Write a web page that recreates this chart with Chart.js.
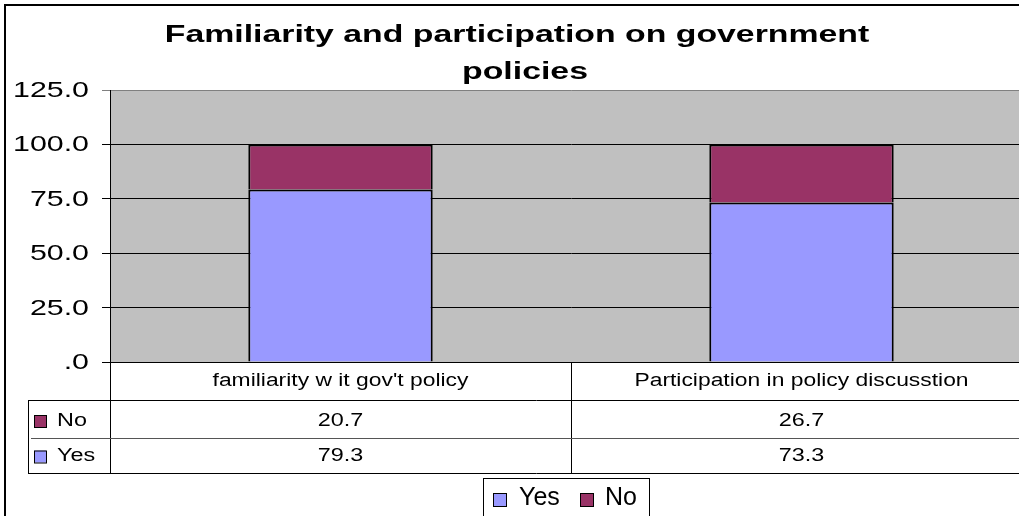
<!DOCTYPE html>
<html>
<head>
<meta charset="utf-8">
<script src="https://cdn.jsdelivr.net/npm/chart.js@4/dist/chart.umd.min.js"></script>
<style>
  html, body { margin: 0; padding: 0; background: #fff; overflow: hidden; }
  #wrap { width: 1019px; height: 516px; overflow: hidden; }
</style>
</head>
<body>
<div id="wrap"><canvas id="chart" width="1045" height="516"></canvas></div>
<script>
const chartTitle = ["Familiarity and participation on government", "policies"];
const categories = ["familiarity w it gov't policy", "Participation in policy discusstion"];
const seriesNames = ["Yes", "No"];
const yesValues = [79.3, 73.3];
const noValues = [20.7, 26.7];
const yTickValues = [0, 25, 50, 75, 100, 125];

(function () {
  const FONT = "'Liberation Sans', Arial, sans-serif";
  const yesColor = "#9999FF";
  const noColor = "#993366";

  function fmt(v) {
    return v === 0 ? ".0" : v.toFixed(1);
  }

  // the source image has its text stretched sideways, so draw with a scale
  function text(ctx, str, x, y, size, sx, align, bold, base) {
    ctx.save();
    ctx.font = (bold ? "bold " : "") + size + "px " + FONT;
    ctx.textAlign = align;
    ctx.textBaseline = base || "middle";
    ctx.fillStyle = "#000";
    ctx.translate(x, y);
    ctx.scale(sx, 1);
    ctx.fillText(str, 0, 0);
    ctx.restore();
  }

  const decor = {
    id: "decor",
    beforeDraw(chart) {
      const { ctx, chartArea: a } = chart;
      ctx.save();
      ctx.fillStyle = "#fff";
      ctx.fillRect(0, 0, chart.width, chart.height);
      ctx.fillStyle = "#C0C0C0";
      ctx.fillRect(a.left, a.top, a.right - a.left, a.bottom - a.top);
      ctx.restore();
    },
    afterDraw(chart) {
      const { ctx, chartArea: a } = chart;
      const x = chart.scales.x;
      const y = chart.scales.y;
      const ds = chart.data.datasets;
      ctx.save();

      // title
      text(ctx, chartTitle[0], 517, 42, 23, 1.47, "center", true, "alphabetic");
      text(ctx, chartTitle[1], 525, 79, 23, 1.47, "center", true, "alphabetic");

      // y tick labels
      y.ticks.forEach((t) => {
        text(ctx, fmt(t.value), 89, y.getPixelForValue(t.value) + 1, 22, 1.38, "right");
      });

      // data table
      const tableLeft = 28;
      const rowTop = [a.bottom, 400, 438, 473];
      const half = (x.getPixelForValue(1) - x.getPixelForValue(0)) / 2;
      ctx.strokeStyle = "#000";
      ctx.lineWidth = 1;
      ctx.beginPath();
      [rowTop[1], rowTop[3]].forEach((ly) => {
        ctx.moveTo(tableLeft, ly + 0.5);
        ctx.lineTo(chart.width, ly + 0.5);
      });
      ctx.moveTo(tableLeft + 0.5, rowTop[1]);
      ctx.lineTo(tableLeft + 0.5, rowTop[3]);
      ctx.moveTo(a.left + 0.5, rowTop[0]);
      ctx.lineTo(a.left + 0.5, rowTop[3]);
      categories.forEach((c, i) => {
        const r = Math.round(x.getPixelForValue(i) + half);
        ctx.moveTo(r + 0.5, rowTop[0]);
        ctx.lineTo(r + 0.5, rowTop[3]);
      });
      ctx.stroke();
      ctx.strokeStyle = "#555";
      ctx.beginPath();
      ctx.moveTo(31, rowTop[2] + 0.5);
      ctx.lineTo(chart.width, rowTop[2] + 0.5);
      ctx.stroke();
      ctx.strokeStyle = "#000";

      categories.forEach((c, i) => {
        text(ctx, c, x.getPixelForValue(i), 381, 18, 1.27, "center");
      });
      // rows: No then Yes (reverse of stacking order)
      const rows = ds.slice().reverse();
      const rowMid = [421, 456.5];
      rows.forEach((d, r) => {
        const cy = rowMid[r];
        ctx.fillStyle = d.backgroundColor;
        ctx.fillRect(34, cy - 6, 12, 12);
        ctx.strokeRect(34.5, cy - 5.5, 12, 12);
        text(ctx, d.label, 57, cy, 18, 1.3, "left");
        d.data.forEach((v, i) => {
          text(ctx, v.toFixed(1), x.getPixelForValue(i), cy, 18, 1.3, "center");
        });
      });

      // legend
      ctx.strokeRect(483.5, 478.5, 166, 50);
      const legendPos = [[493, 519], [580, 605]];
      ds.forEach((d, i) => {
        const [sq, tx] = legendPos[i];
        ctx.fillStyle = d.backgroundColor;
        ctx.fillRect(sq, 493, 13, 13);
        ctx.strokeRect(sq + 0.5, 493.5, 13, 13);
        text(ctx, d.label, tx, 498, 25, 1.0, "left");
      });

      // outer frame
      ctx.lineWidth = 2;
      ctx.strokeRect(5, 5, chart.width + 10, chart.height + 10);
      ctx.restore();
    },
  };

  new Chart(document.getElementById("chart").getContext("2d"), {
    type: "bar",
    data: {
      labels: categories,
      datasets: [
        {
          label: seriesNames[0],
          data: yesValues,
          backgroundColor: yesColor,
          borderColor: "#000",
          borderWidth: 2,
          barPercentage: 0.4,
          categoryPercentage: 1,
        },
        {
          label: seriesNames[1],
          data: noValues,
          backgroundColor: noColor,
          borderColor: "#000",
          borderWidth: 2,
          barPercentage: 0.4,
          categoryPercentage: 1,
        },
      ],
    },
    options: {
      responsive: false,
      animation: false,
      layout: { padding: { left: 25, top: 90, right: 13, bottom: 154 } },
      plugins: {
        legend: { display: false },
        title: { display: false },
        tooltip: { enabled: false },
      },
      scales: {
        x: { stacked: true, display: false },
        y: {
          stacked: true,
          min: 0,
          max: 125,
          afterFit: (s) => { s.width = 85; },
          afterBuildTicks: (s) => { s.ticks = yTickValues.map((v) => ({ value: v })); },
          ticks: { display: false },
          grid: {
            color: (c) => (c.tick && c.tick.value === 125 ? "#808080" : "#000"),
            tickLength: 8,
            lineWidth: 1,
          },
          border: { color: "#000" },
        },
      },
    },
    plugins: [decor],
  });
})();
</script>
</body>
</html>
